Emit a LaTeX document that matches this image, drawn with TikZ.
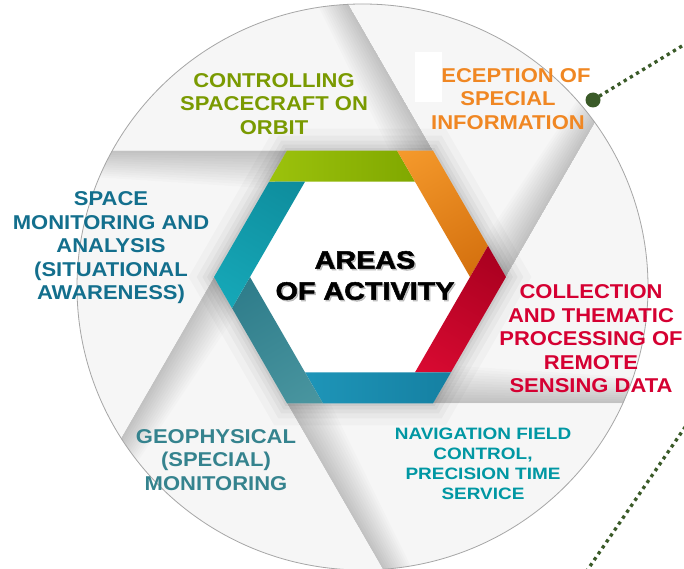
\documentclass[tikz,border=0pt]{standalone}
\usepackage{fontspec}
\usetikzlibrary{calc}
\setmainfont{Liberation Sans}
\newfontfamily\lblfont{Liberation Sans Bold}[FakeStretch=1.1]
\newfontfamily\navfont{Liberation Sans Bold}[FakeStretch=1.15]
\newfontfamily\heavyfont{Liberation Sans Bold}[FakeStretch=1.15,FakeBold=2]
\definecolor{bladebase}{HTML}{F6F6F6}
\definecolor{gA}{HTML}{9CC20C}\definecolor{gB}{HTML}{80A800}
\definecolor{oA}{HTML}{F59A2C}\definecolor{oB}{HTML}{D4700E}
\definecolor{rA}{HTML}{A8001F}\definecolor{rB}{HTML}{DA0A32}
\definecolor{bA}{HTML}{1580A2}\definecolor{bB}{HTML}{1E95B8}
\definecolor{tA}{HTML}{4A96A0}\definecolor{tB}{HTML}{2E7C8A}
\definecolor{cA}{HTML}{16A8B8}\definecolor{cB}{HTML}{0E8C9C}
\definecolor{ctrlgreen}{HTML}{7A9A01}
\definecolor{recorange}{HTML}{F08723}
\definecolor{spaceblue}{HTML}{136F8D}
\definecolor{collred}{HTML}{D50032}
\definecolor{geoteal}{HTML}{35838E}
\definecolor{navteal}{HTML}{0097A3}
\definecolor{dotgreen}{HTML}{3A5A28}
\pgfdeclareradialshading{hexglow}{\pgfpoint{0bp}{0bp}}{color(0bp)=(white); color(27bp)=(white); color(40bp)=(black!10); color(50bp)=(black!30)}
\begin{document}
\begin{tikzpicture}[x=1pt,y=-1pt,
  lbl/.style={font=\lblfont\fontsize{20}{23.5}\selectfont, align=center, inner sep=0pt},
  navlbl/.style={font=\navfont\fontsize{16.5}{20}\selectfont, align=center, inner sep=0pt},
  centerlbl/.style={font=\heavyfont\fontsize{25}{31}\selectfont, align=center, inner sep=0pt},
  dotline/.style={draw=dotgreen, line width=3.3pt, dash pattern=on 3.3pt off 3.9pt},
  bigdot/.style={circle, fill=dotgreen, minimum size=15pt, inner sep=0pt},
  bladeshade/.style={fill=black, opacity=0.014}]
\useasboundingbox (0,0) rectangle (684,569);
\clip (0,0) rectangle (684,569);
\fill[white] (0,0) rectangle (684,569);
\coordinate (H) at (360,277);
\coordinate (O) at (362.5,287);
% blades
\begin{scope}
  \clip (O) ellipse [x radius=285.5, y radius=283];
  \foreach \k in {0,...,5}{
    \begin{scope}[shift={(360,277)},rotate=-60*\k]
      \fill[bladebase] (73,-126.4) -- (-327,-819) -- (-900,-819) -- (-900,-126.4) -- cycle;
      \begin{scope}
        \clip (73,-126.4) -- (-327,-819) -- (-900,-819) -- (-900,-126.4) -- cycle;
        \foreach \w in {3,6,...,39}{
          \path[bladeshade] (73,-126.4) -- (-77,-386.2) -- ({-77-0.433*\w},{-386.2+0.25*\w}) -- ({73-0.866*\w},{-126.4+0.5*\w}) -- cycle;
        }
      \end{scope}
    \end{scope}
  }
  % soft shadow round the hexagon
  \foreach \w/\o in {44/0.025,30/0.03,20/0.035,12/0.04,5/0.05}{
    \draw[black, opacity=\o, line width=\w pt, line join=miter]
      ($(H)+(73,-126.4)$) -- ($(H)+(146,0)$) -- ($(H)+(73,126.4)$) -- ($(H)+(-73,126.4)$) -- ($(H)+(-146,0)$) -- ($(H)+(-73,-126.4)$) -- cycle;
  }
\end{scope}
\draw[black!35, line width=0.8pt] (O) ellipse [x radius=285.5, y radius=283];
% inner hexagon
\shade[shading=hexglow] ($(H)+(55,-95.3)$) -- ($(H)+(110,0)$) -- ($(H)+(55,95.3)$) -- ($(H)+(-55,95.3)$) -- ($(H)+(-110,0)$) -- ($(H)+(-55,-95.3)$) -- cycle;
% bands
\foreach \k/\cl/\cr in {0/gA/gB,1/oA/oB,2/rA/rB,3/bA/bB,4/tA/tB,5/cA/cB}{
  \begin{scope}[transform canvas={shift={(360,277)},rotate=-60*\k}]
    \shade[left color=\cl, right color=\cr] (-73,-126.4) -- (37,-126.4) -- (55,-95.3) -- (-91,-95.3) -- cycle;
  \end{scope}
}
% white patch
\fill[white] (415,52) rectangle (442,102);
% labels
\node[lbl, text=ctrlgreen] (ctrl) at (274,104) {CONTROLLING\\SPACECRAFT ON\\ORBIT};
\node[lbl, text=recorange] (recep) at (508,99) {\hphantom{R}ECEPTION OF\\SPECIAL\\INFORMATION};
\node[lbl, text=spaceblue] (space) at (111,248) {SPACE\\MONITORING AND\\ANALYSIS\\(SITUATIONAL\\AWARENESS)};
\node[lbl, text=collred] (coll) at (591,339) {COLLECTION\\AND THEMATIC\\PROCESSING OF\\REMOTE\\SENSING DATA};
\node[lbl, text=geoteal] (geo) at (216,460) {GEOPHYSICAL\\(SPECIAL)\\MONITORING};
\node[navlbl, text=navteal] (nav) at (483,464) {NAVIGATION FIELD\\CONTROL,\\PRECISION TIME\\SERVICE};
\node[centerlbl, text=black!45, opacity=0.5] (areasShadow) at (366.5,277) {AREAS\\OF ACTIVITY};
\node[centerlbl, text=black] (areas) at (365,275.5) {AREAS\\OF ACTIVITY};
% dotted connectors
\node[bigdot] (dot1) at (593,100) {};
\coordinate (d1far) at (705,32);
\draw[dotline] (dot1.center) -- (d1far);
\coordinate (d2a) at (586,572);
\coordinate (d2b) at (692,417);
\draw[dotline] (d2a) -- (d2b);
\end{tikzpicture}
\end{document}
